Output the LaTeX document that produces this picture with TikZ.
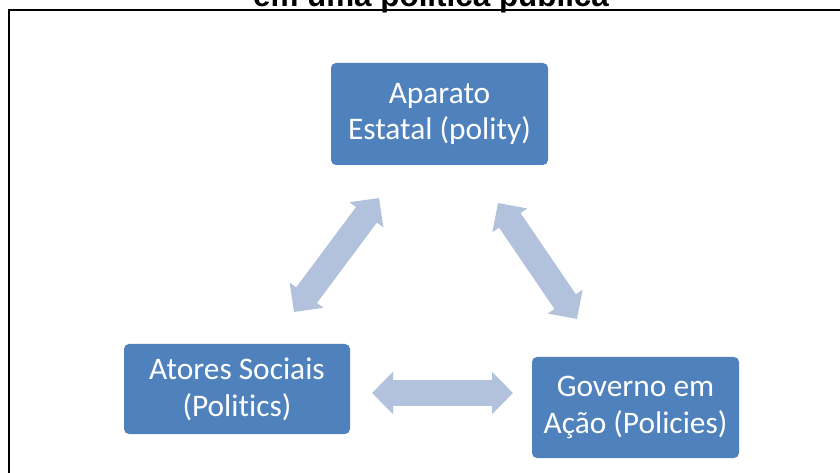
\documentclass[tikz,border=0pt]{standalone}
\usepackage{fontspec}
\setmainfont{Carlito}[Ligatures=NoCommon]
\newfontfamily\titlefont{Liberation Sans}
\usetikzlibrary{arrows.meta}
\definecolor{boxblue}{HTML}{4F81BD}
\definecolor{arrowblue}{HTML}{B3C2DC}
\begin{document}
\begin{tikzpicture}[x=1bp,y=-1bp,
  box/.style={fill=boxblue, rounded corners=5bp, text=white, align=center,
    inner sep=0pt, font=\fontsize{31.5}{37}\selectfont},
  dblarrow/.style={draw=arrowblue, line width=26bp,
    {Triangle[width=41bp,length=21bp]}-{Triangle[width=41bp,length=21bp]}},
  frameline/.style={draw=black, line width=2bp}]
\useasboundingbox (0,0) rectangle (840,473);
\clip (0,0) rectangle (840,473);
\fill[white] (0,0) rectangle (840,473);
% title (clipped at top)
\node[anchor=base, inner sep=0pt, font=\titlefont\bfseries\fontsize{31.5}{38}\selectfont]
  (title) at (431,7) {em uma política pública};
% frame
\draw[frameline] (9,10.3) rectangle (860,500);
% boxes
\node[box, minimum width=217bp, minimum height=102bp] (polity) at (439.5,114)
  {Aparato\\Estatal (polity)};
\node[box, minimum width=226bp, minimum height=90bp] (politics) at (237,389)
  {Atores Sociais\\(Politics)};
\node[box, minimum width=207bp, minimum height=101bp] (policies) at (635.5,407.5)
  {Governo em\\Ação (Policies)};
% arrow end points
\coordinate (a1) at (294,312);
\coordinate (a2) at (379,198);
\coordinate (b1) at (498,203);
\coordinate (b2) at (577,319);
\coordinate (c1) at (372,393);
\coordinate (c2) at (513,393);
\draw[dblarrow] (a1) -- (a2);
\draw[dblarrow] (b1) -- (b2);
\draw[dblarrow] (c1) -- (c2);
\end{tikzpicture}
\end{document}
